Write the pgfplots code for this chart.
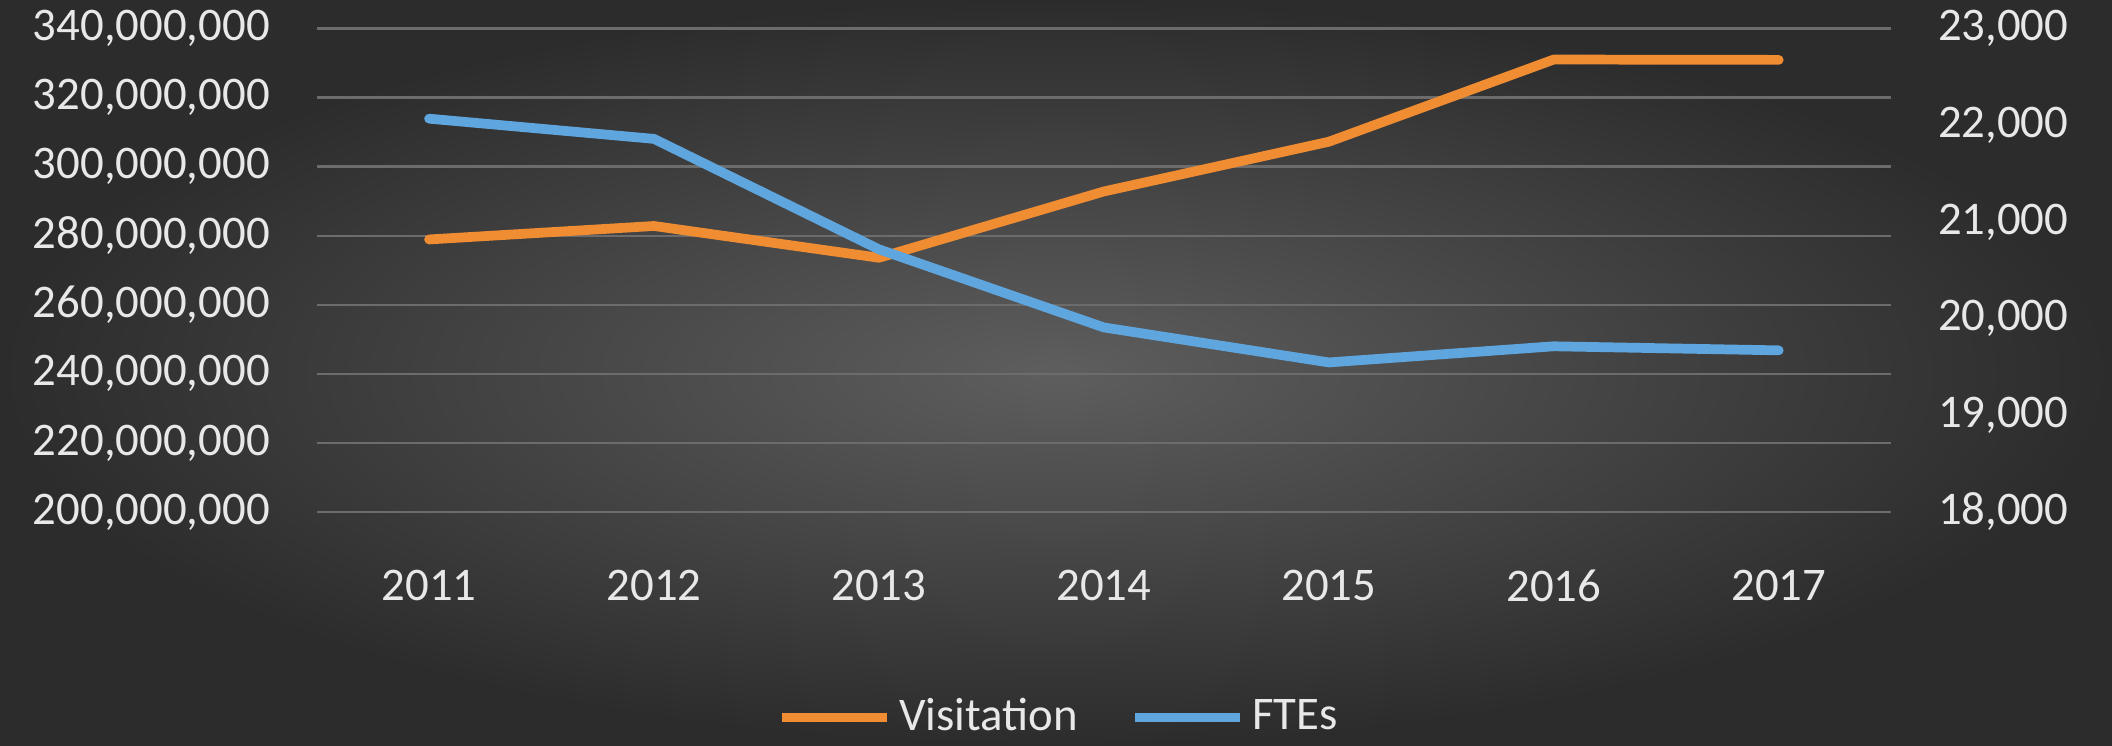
\documentclass[border=0pt]{standalone}
\usepackage{pgfplots}
\pgfplotsset{compat=1.18}
\usepackage{fontspec}
\setmainfont{Carlito}
\definecolor{bgIn}{RGB}{94,94,94}
\definecolor{bgOut}{RGB}{44,44,44}
\definecolor{gridc}{RGB}{108,108,108}
\definecolor{vis}{RGB}{240,140,50}
\definecolor{fte}{RGB}{95,165,222}
\definecolor{txt}{RGB}{232,232,232}
\begin{document}
\begin{tikzpicture}
\useasboundingbox (-84.6pt,-62.3pt) rectangle (479.8pt,136.8pt);
\shade[inner color=bgIn, outer color=bgOut] (-84.6pt,-62.3pt) rectangle (479.8pt,136.8pt);
\begin{axis}[
  at={(0,0)}, anchor=south west, scale only axis,
  width=420.8pt, height=129.2pt,
  xmin=-0.5, xmax=6.5,
  ymin=200000000, ymax=340000000,
  axis line style={draw=none},
  major tick length=0pt,
  xtick={0,1,2,3,4,5,6},
  xticklabels={2011,2012,2013,2014,2015,2016,2017},
  ytick={200000000,220000000,240000000,260000000,280000000,300000000,320000000,340000000},
  yticklabels={{200,000,000},{220,000,000},{240,000,000},{260,000,000},{280,000,000},{300,000,000},{320,000,000},{340,000,000}},
  scaled y ticks=false,
  ymajorgrids,
  grid style={gridc, line width=0.6pt},
  tick label style={font=\fontsize{12.5}{14}\selectfont, text=txt},
  xticklabel style={yshift=-12pt},
  yticklabel style={xshift=-9pt},
]
\addplot[vis, line width=2.6pt, line join=round, line cap=round] coordinates {
  (0,278900000) (1,282800000) (2,273600000) (3,292800000) (4,307200000) (5,331000000) (6,330900000)
};
\end{axis}
\begin{axis}[
  at={(0,0)}, anchor=south west, scale only axis,
  width=420.8pt, height=129.2pt,
  xmin=-0.5, xmax=6.5,
  ymin=18000, ymax=23000,
  axis y line*=right,
  axis x line=none,
  axis line style={draw=none},
  major tick length=0pt,
  ytick={18000,19000,20000,21000,22000,23000},
  yticklabels={{18,000},{19,000},{20,000},{21,000},{22,000},{23,000}},
  scaled y ticks=false,
  tick label style={font=\fontsize{12.5}{14}\selectfont, text=txt},
  yticklabel style={xshift=9pt},
  legend style={at={(0.473,-0.425)}, anchor=center, draw=none, fill=none,
    font=\fontsize{12.5}{14}\selectfont, text=txt,
    /tikz/every even column/.append style={column sep=12pt}},
  legend columns=2,
  legend image code/.code={\draw[#1, line cap=butt] (0pt,0pt) -- (28pt,0pt);},
]
\addlegendimage{vis, line width=2.6pt}
\addlegendentry{Visitation}
\addplot[fte, line width=2.6pt, line join=round, line cap=round] coordinates {
  (0,22067) (1,21858) (2,20716) (3,19908) (4,19546) (5,19713) (6,19671)
};
\addlegendentry{FTEs}
\end{axis}
\end{tikzpicture}
\end{document}
